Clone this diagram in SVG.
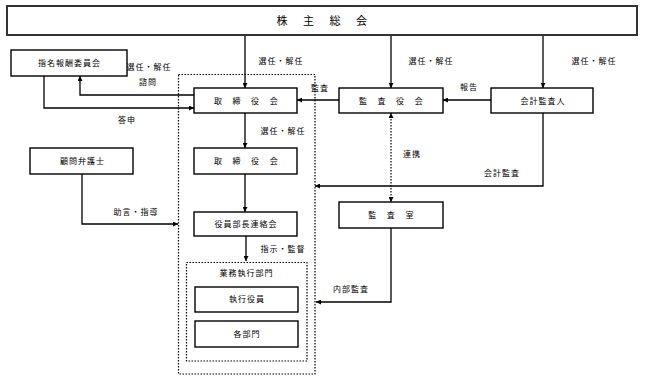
<svg xmlns="http://www.w3.org/2000/svg" width="645" height="383" viewBox="0 0 645 383">
<defs>
<marker id="ah" viewBox="0 0 6 6" refX="6" refY="3" markerWidth="5" markerHeight="5" orient="auto-start-reverse" markerUnits="userSpaceOnUse">
<path d="M0,0 L6,3 L0,6 Z" fill="#000"/>
</marker>
</defs>
<style>
text{font-family:"Noto Sans CJK JP","Noto Sans CJK SC",sans-serif;font-size:8px;fill:#000;text-anchor:middle;letter-spacing:1px}
.box{fill:#fff;stroke:#000;stroke-width:1.4}
.dot{fill:none;stroke:#000;stroke-width:1.2;stroke-dasharray:1.5 1.5}
.ln{fill:none;stroke:#000;stroke-width:1.3}
.sp{letter-spacing:4.4px}
</style>
<rect width="645" height="383" fill="#fff"/>
<g id="frame-outer"><rect class="dot" x="178.5" y="74.5" width="136.5" height="299.5"/></g>
<g id="frame-inner"><rect class="dot" x="186.5" y="262.5" width="120.5" height="98.5"/><text x="246.5" y="276">業務執行部門</text></g>
<g id="connectors">
<path class="ln" d="M245,35 V88" marker-end="url(#ah)"/>
<path class="ln" d="M391,35 V88" marker-end="url(#ah)"/>
<path class="ln" d="M543,35 V88" marker-end="url(#ah)"/>
<path class="ln" d="M194,95 H80 V76" marker-end="url(#ah)"/>
<path class="ln" d="M44,76 V108 H194" marker-end="url(#ah)"/>
<path class="ln" d="M339,100 H297" marker-end="url(#ah)"/>
<path class="ln" d="M491,100 H443" marker-end="url(#ah)"/>
<path class="ln" d="M543,113 V186 H315" marker-end="url(#ah)"/>
<path class="dot" d="M391,113 V202" marker-start="url(#ah)" marker-end="url(#ah)"/>
<path class="ln" d="M82,174 V224 H178" marker-end="url(#ah)"/>
<path class="ln" d="M245,113 V148" marker-end="url(#ah)"/>
<path class="ln" d="M245,174 V212" marker-end="url(#ah)"/>
<path class="ln" d="M246,236 V261" marker-end="url(#ah)"/>
<path class="ln" d="M391,228 V302 H316" marker-end="url(#ah)"/>
</g>
<g id="labels">
<text x="149" y="70">選任・解任</text>
<text x="148" y="85">諮問</text>
<text x="127" y="123">答申</text>
<text x="281" y="64">選任・解任</text>
<text x="320" y="91">監査</text>
<text x="431" y="64">選任・解任</text>
<text x="469" y="90">報告</text>
<text x="594" y="64">選任・解任</text>
<text x="283" y="134">選任・解任</text>
<text x="412" y="157">連携</text>
<text x="502" y="176">会計監査</text>
<text x="136" y="215">助言・指導</text>
<text x="283" y="252">指示・監督</text>
<text x="351" y="292">内部監査</text>
</g>
<g id="n-shareholders"><rect x="7" y="6" width="630" height="29" fill="#fff" stroke="#333" stroke-width="2"/><text x="325" y="25" style="font-size:11px;letter-spacing:6.5px">株 主 総 会</text></g>
<g id="n-nomination"><rect class="box" x="11" y="50" width="116" height="26"/><text x="69.5" y="66">指名報酬委員会</text></g>
<g id="n-board1"><rect class="box" x="194" y="88" width="103" height="25"/><text class="sp" x="248" y="104">取 締 役 会</text></g>
<g id="n-auditboard"><rect class="box" x="339" y="88" width="104" height="25"/><text class="sp" x="393" y="104">監 査 役 会</text></g>
<g id="n-accountant"><rect class="box" x="491" y="88" width="102" height="25"/><text x="543" y="104">会計監査人</text></g>
<g id="n-lawyer"><rect class="box" x="30" y="148" width="103" height="26"/><text x="82.5" y="164">顧問弁護士</text></g>
<g id="n-board2"><rect class="box" x="194" y="148" width="103" height="26"/><text class="sp" x="248" y="164">取 締 役 会</text></g>
<g id="n-auditroom"><rect class="box" x="339" y="202" width="104" height="26"/><text class="sp" x="393" y="218">監 査 室</text></g>
<g id="n-liaison"><rect class="box" x="194" y="212" width="103" height="24"/><text x="246" y="227">役員部長連絡会</text></g>
<g id="n-officers"><rect class="box" x="195" y="287" width="103" height="25"/><text x="247" y="302">執行役員</text></g>
<g id="n-depts"><rect class="box" x="195" y="321" width="103" height="26"/><text x="247" y="337">各部門</text></g>
</svg>
